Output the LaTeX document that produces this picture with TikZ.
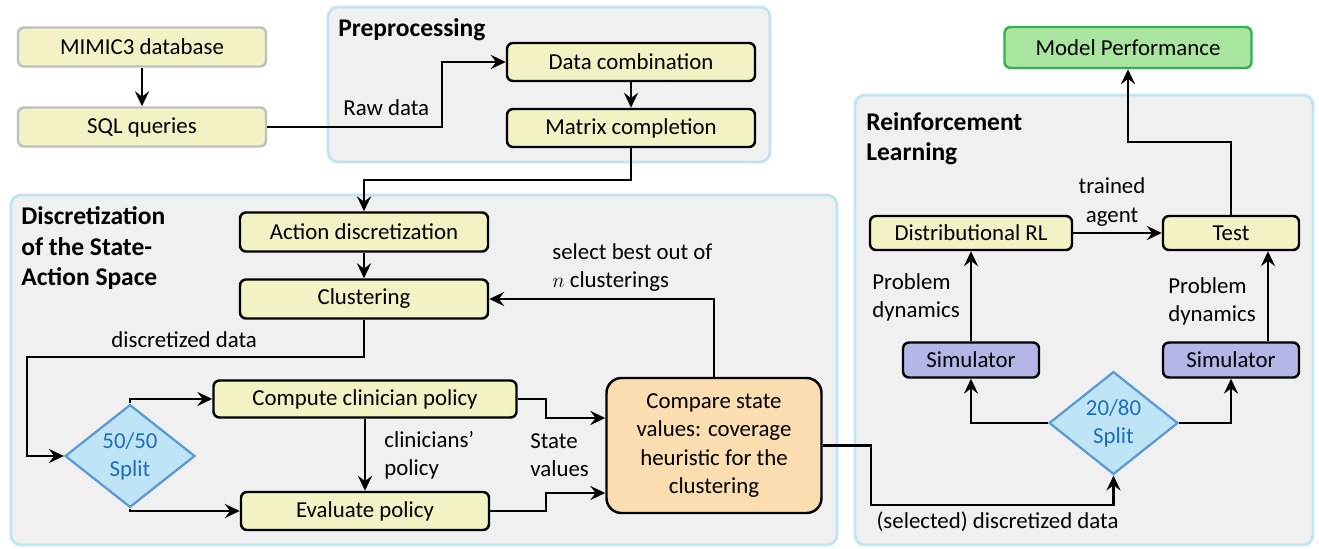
\documentclass[tikz,border=0pt]{standalone}
\usepackage{fontspec}
\setmainfont{Carlito}
\usepackage{xcolor}
\usetikzlibrary{arrows.meta,shapes.geometric}

\definecolor{boxyellow}{RGB}{242,242,196}
\definecolor{panelgray}{RGB}{240,240,240}
\definecolor{panelblue}{RGB}{190,228,245}
\definecolor{srcgray}{RGB}{190,190,190}
\definecolor{peach}{RGB}{252,221,176}
\definecolor{simblue}{RGB}{180,182,232}
\definecolor{perfgreen}{RGB}{168,230,160}
\definecolor{perfborder}{RGB}{50,176,80}
\definecolor{splitfill}{RGB}{190,228,245}
\definecolor{splitborder}{RGB}{90,155,213}
\definecolor{splittext}{RGB}{30,110,190}

\begin{document}
\begin{tikzpicture}[font=\fontsize{13}{16}\selectfont, >={Stealth[length=8.5pt,width=8pt,inset=3pt]}]
  \tikzstyle{panel}=[draw=panelblue, fill=panelgray, line width=1.6pt, rounded corners=0.2cm]
  \tikzstyle{panel title}=[font=\fontsize{14.5}{17.5}\selectfont\bfseries, align=left, anchor=north west, inner sep=0pt]
  \tikzstyle{process}=[draw, line width=1.4pt, fill=boxyellow, rounded corners=0.12cm, inner sep=0pt, minimum width=4.96cm, minimum height=0.78cm]
  \tikzstyle{data source}=[process, draw=srcgray]
  \tikzstyle{sim box}=[process, fill=simblue, minimum width=2.72cm, minimum height=0.7cm]
  \tikzstyle{split diamond}=[diamond, draw=splitborder, fill=splitfill, line width=1.3pt, text=splittext, align=center, inner sep=0pt, minimum width=2.6cm, minimum height=2.04cm]
  \tikzstyle{flow}=[->, line width=1.25pt]
  \tikzstyle{edge label}=[align=left, inner sep=0pt, anchor=west]

  \useasboundingbox (0,0) rectangle (26.38,10.96);

  % panels
  \draw[panel] (6.56,7.72) rectangle (15.40,10.82);
  \draw[panel] (0.22,0.06) rectangle (16.74,7.06);
  \draw[panel] (17.10,0.06) rectangle (26.26,9.06);
  \node[panel title, anchor=west] (pretitle) at (6.76,10.36) {Preprocessing};
  \node[panel title] (disctitle) at (0.42,6.84) {Discretization\\of the State-\\Action Space};
  \node[panel title] (rltitle) at (17.32,8.72) {Reinforcement\\Learning};

  \node[data source] (mimic) at (2.84,10.02) {MIMIC3 database};
  \node[data source] (sql) at (2.84,8.42) {SQL queries};

  \node[process, minimum height=0.76cm] (datacomb) at (12.62,9.72) {Data combination};
  \node[process, minimum height=0.76cm] (matrix) at (12.62,8.40) {Matrix completion};

  \node[process] (actdisc) at (7.28,6.32) {Action discretization};
  \node[process] (clust) at (7.28,4.98) {Clustering};
  \node[process, minimum width=6.06cm, minimum height=0.74cm] (compute) at (7.30,2.98) {Compute clinician policy};
  \node[process, minimum height=0.76cm] (evalpol) at (7.30,0.74) {Evaluate policy};
  \node[split diamond] (split1) at (2.60,1.84) {50/50\\Split};
  \node[process, fill=peach, rounded corners=0.3cm, minimum width=4.30cm, minimum height=2.70cm, align=center] (compare) at (14.28,2.05) {Compare state\\values: coverage\\heuristic for the\\clustering};

  \node[process, minimum width=4.04cm, minimum height=0.68cm] (distrl) at (19.42,6.30) {Distributional RL};
  \node[process, minimum width=2.72cm, minimum height=0.68cm] (test) at (24.62,6.30) {Test};
  \node[sim box] (simL) at (19.42,3.76) {Simulator};
  \node[sim box] (simR) at (24.62,3.76) {Simulator};
  \node[split diamond, minimum width=2.58cm] (split2) at (22.27,2.50) {20/80\\Split};
  \node[process, draw=perfborder, fill=perfgreen, minimum width=4.94cm, minimum height=0.82cm] (perf) at (22.56,10.01) {Model Performance};

  \coordinate (rawbend) at (8.84,8.42);
  \coordinate (mbend) at (12.62,7.36);
  \coordinate (dbend) at (0.54,3.82);
  \coordinate (sv1) at (10.92,2.60);
  \coordinate (sv2) at (10.92,1.10);
  \coordinate (selbend) at (17.42,0.86);
  \coordinate (tbend) at (24.62,8.12);

  \draw[flow] (mimic) -- (sql);
  \draw[flow] (sql.east) -- (rawbend) |- (datacomb.west);
  \draw[flow] (datacomb) -- (matrix);
  \draw[flow] (matrix.south) -- (mbend) -| (actdisc.north);
  \draw[flow] (actdisc) -- (clust);
  \draw[flow] (clust.south) |- (dbend) |- (split1.west);
  \draw[flow] (split1.north) |- (compute.west);
  \draw[flow] (split1.south) |- (evalpol.west);
  \draw[flow] (compute.south) -- (evalpol.north);
  \draw[flow] (compute.east) -| (sv1) -- (sv1 -| compare.west);
  \draw[flow] (evalpol.east) -| (sv2) -- (sv2 -| compare.west);
  \draw[flow] (compare.north) |- (clust.east);
  \draw[flow] (compare.east) -| (selbend) -| (split2.south);
  \draw[flow] (split2.west) -| (simL.south);
  \draw[flow] (split2.east) -| (simR.south);
  \draw[flow] (simL.north) -- (distrl.south);
  \draw[flow] ([xshift=0.74cm]simR.north) -- ([xshift=0.74cm]test.south);
  \draw[flow] (distrl.east) -- (test.west);
  \draw[flow] (test.north) -- (tbend) -| (perf.south);

  \node[edge label] (rawlbl) at (6.86,8.80) {Raw data};
  \node[edge label] (disclbl) at (2.22,4.16) {discretized data};
  \node[edge label] (cliniclbl) at (7.68,1.86) {clinicians’\\policy};
  \node[edge label] (svlbl) at (10.60,1.86) {State\\values};
  \node[edge label] (bestlbl) at (11.04,5.61) {select best out of\\$n$ clusterings};
  \node[edge label, anchor=center] (sellbl) at (19.95,0.52) {(selected) discretized data};
  \node[edge label] (dynlblL) at (17.44,5.01) {Problem\\dynamics};
  \node[edge label] (dynlblR) at (23.36,4.94) {Problem\\dynamics};
  \node[edge label, anchor=center, align=center] (agentlbl) at (22.24,6.92) {trained\\agent};
\end{tikzpicture}
\end{document}
